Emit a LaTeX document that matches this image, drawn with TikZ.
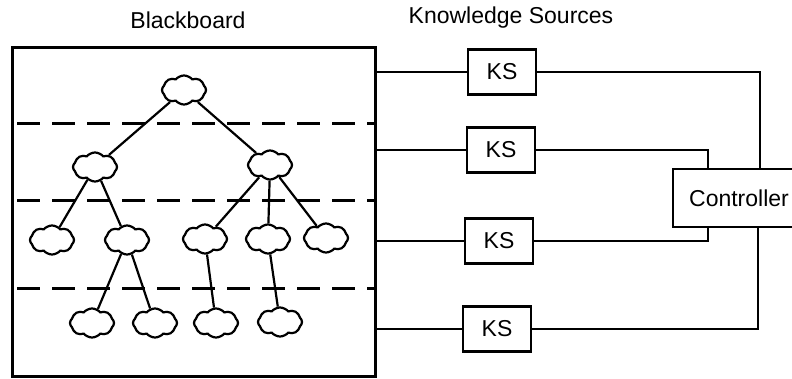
\documentclass[tikz,border=0pt]{standalone}
\usepackage{fontspec}
\setmainfont{Liberation Sans}
\usetikzlibrary{shapes.symbols}

\begin{document}
\begin{tikzpicture}[x=1pt, y=1pt,
	blob/.style={cloud, cloud puffs=8, cloud puff arc=100, aspect=1.55, draw, line width=2.2pt, minimum width=44pt, minimum height=29pt, inner sep=0pt},
	ksbox/.style={draw, line width=2.8pt, minimum width=68pt, minimum height=45pt, inner sep=0pt},
	wire/.style={line width=2.2pt},
	lbl/.style={font=\fontsize{23}{27}\selectfont}]
	
	\useasboundingbox (0,0) rectangle (792,378);
	\clip (0,0) rectangle (792,378);
	
	% blackboard with its levels
	\node[draw, line width=3pt, minimum width=363pt, minimum height=328pt] (bb) at (193.5,166) {};
	\node[lbl] (bbname) at (188,358) {Blackboard};
	\foreach \y in {254,178,90}
		\draw[line width=3pt, dash pattern=on 23pt off 12pt, dash phase=-5pt] (12,\y) -- (375,\y);
	
	% hypotheses
	\node[blob] (r) at (184,288) {};
	\node[blob] (a) at (95,211) {};
	\node[blob] (b) at (270,213) {};
	\node[blob] (a1) at (52,138) {};
	\node[blob] (a2) at (127,138) {};
	\node[blob] (b1) at (205,139) {};
	\node[blob] (b2) at (268,139) {};
	\node[blob] (b3) at (326,140) {};
	\node[blob] (a21) at (92,55) {};
	\node[blob] (a22) at (155,55) {};
	\node[blob] (b11) at (216,55) {};
	\node[blob] (b21) at (280,56) {};
	
	\draw[wire] (r) -- (a);
	\draw[wire] (r) -- (b);
	\draw[wire] (a) -- (a1);
	\draw[wire] (a) -- (a2);
	\draw[wire] (b) -- (b1);
	\draw[wire] (b) -- (b2);
	\draw[wire] (b) -- (b3);
	\draw[wire] (a2) -- (a21);
	\draw[wire] (a2) -- (a22);
	\draw[wire] (b1) -- (b11);
	\draw[wire] (b2) -- (b21);
	
	% knowledge sources and the controller
	\node[lbl] (ksname) at (511,360) {Knowledge Sources};
	\node[ksbox, lbl] (ks1) at (502,306) {KS};
	\node[ksbox, lbl] (ks2) at (501,228) {KS};
	\node[ksbox, lbl] (ks3) at (499,137) {KS};
	\node[ksbox, lbl] (ks4) at (497,49) {KS};
	\node[draw, line width=2.8pt, minimum width=132pt, minimum height=58pt, lbl] (ctl) at (739,180) {Controller};
	
	\foreach \k in {ks1,ks2,ks3,ks4}
		\draw[wire] (bb.east |- \k) -- (\k);
	
	\draw[wire] (ks1) -| ([xshift=21pt]ctl.north);
	\draw[wire] (ks2) -| ([xshift=-31pt]ctl.north);
	\draw[wire] (ks3) -| ([xshift=-31pt]ctl.south);
	\draw[wire] (ks4) -| ([xshift=19pt]ctl.south);
	
\end{tikzpicture}
\end{document}
